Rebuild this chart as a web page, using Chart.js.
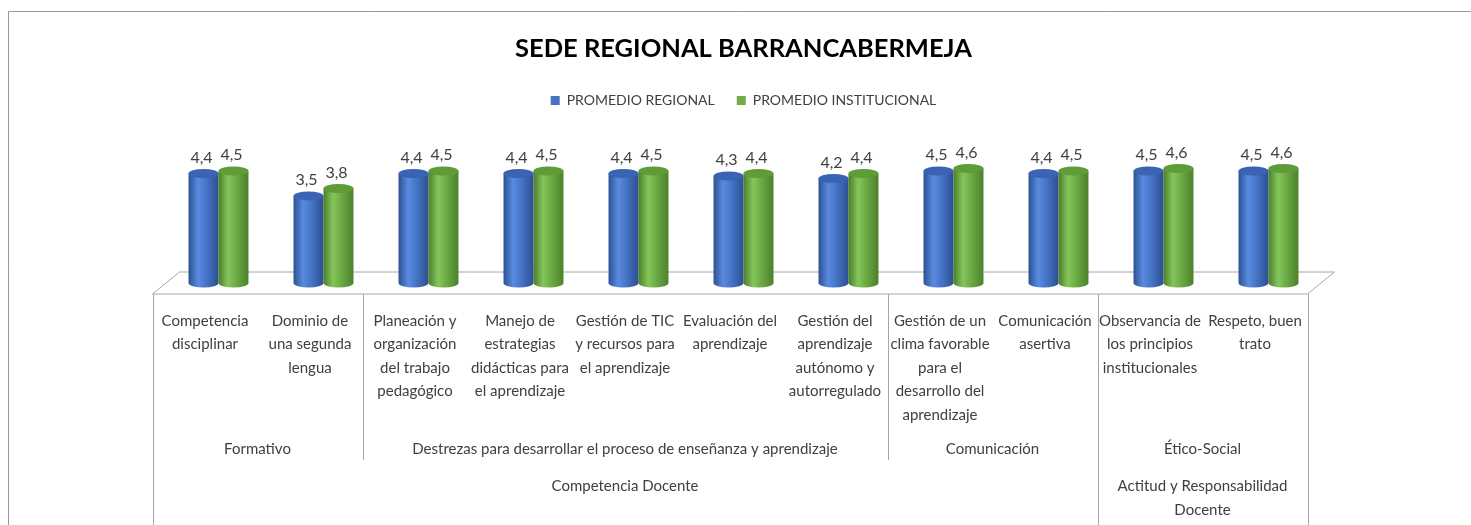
<!DOCTYPE html>
<html>
<head>
<meta charset="utf-8">
<script src="https://cdn.jsdelivr.net/npm/chart.js@4.4.1/dist/chart.umd.min.js"></script>
<style>
  body { margin: 0; background: #fff; }
  #wrap { width: 1471px; height: 525px; position: relative; }
</style>
</head>
<body>
<div id="wrap"><canvas id="sedeChart"></canvas></div>
<script>
// Chart data
const categories = [
    ['Competencia', 'disciplinar'],
    ['Dominio de', 'una segunda', 'lengua'],
    ['Planeación y', 'organización', 'del trabajo', 'pedagógico'],
    ['Manejo de', 'estrategias', 'didácticas para', 'el aprendizaje'],
    ['Gestión de TIC', 'y recursos para', 'el aprendizaje'],
    ['Evaluación del', 'aprendizaje'],
    ['Gestión del', 'aprendizaje', 'autónomo y', 'autorregulado'],
    ['Gestión de un', 'clima favorable', 'para el', 'desarrollo del', 'aprendizaje'],
    ['Comunicación', 'asertiva'],
    ['Observancia de', 'los principios', 'institucionales'],
    ['Respeto, buen', 'trato']
];
const promedioRegional = [4.4, 3.5, 4.4, 4.4, 4.4, 4.3, 4.2, 4.5, 4.4, 4.5, 4.5];
const promedioInstitucional = [4.5, 3.8, 4.5, 4.5, 4.5, 4.4, 4.4, 4.6, 4.5, 4.6, 4.6];

// category groups: label and [first, last] category index
const subGroups = ['Formativo', 'Destrezas para desarrollar el proceso de enseñanza y aprendizaje', 'Comunicación', 'Ético-Social'];
const subGroupSpans = [[0, 1], [2, 6], [7, 8], [9, 10]];
const mainGroups = [['Competencia Docente'], ['Actitud y Responsabilidad', 'Docente']];
const mainGroupSpans = [[0, 8], [9, 10]];

const FONT = "Lato, 'Liberation Sans', sans-serif";
const TEXT = '#404040';
const LINE = '#a6a6a6';
const DEPTH = 13.5;

const cylinderColors = [
    { stops: ['#2b5192', '#5a8be0', '#4472c4', '#2c4f90'], top: '#3a63b3' },
    { stops: ['#4a7e2b', '#84c65b', '#6aa842', '#4b812b'], top: '#5f9c38' }
];

function drawCylinder(ctx, x, top, base, w, col) {
    const rx = w / 2, ry = 4.5;
    const g = ctx.createLinearGradient(x - rx, 0, x + rx, 0);
    g.addColorStop(0, col.stops[0]);
    g.addColorStop(0.32, col.stops[1]);
    g.addColorStop(0.62, col.stops[2]);
    g.addColorStop(1, col.stops[3]);
    ctx.fillStyle = g;
    ctx.beginPath();
    ctx.moveTo(x - rx, top);
    ctx.lineTo(x - rx, base);
    ctx.ellipse(x, base, rx, ry, 0, Math.PI, 0, true);
    ctx.lineTo(x + rx, top);
    ctx.closePath();
    ctx.fill();
    ctx.fillStyle = col.top;
    ctx.beginPath();
    ctx.ellipse(x, top, rx, ry, 0, 0, Math.PI * 2);
    ctx.fill();
}

const cylinderPlugin = {
    id: 'cylinders',
    beforeInit(chart) {
        // extra room under the legend
        const fit = chart.legend.fit;
        chart.legend.fit = function() {
            fit.call(this);
            this.height += 41;
        };
    },
    beforeDatasetsDraw(chart) {
        const ctx = chart.ctx;
        const area = chart.chartArea;
        ctx.save();
        // floor
        ctx.strokeStyle = LINE;
        ctx.lineWidth = 1;
        ctx.fillStyle = '#fff';
        ctx.beginPath();
        ctx.moveTo(area.left - DEPTH, area.bottom + 11);
        ctx.lineTo(area.right - DEPTH, area.bottom + 11);
        ctx.lineTo(area.right + DEPTH, area.bottom - 11);
        ctx.lineTo(area.left + DEPTH, area.bottom - 11);
        ctx.closePath();
        ctx.fill();
        ctx.stroke();

        chart.data.datasets.forEach(function(ds, i) {
            const meta = chart.getDatasetMeta(i);
            meta.data.forEach(function(bar) {
                drawCylinder(ctx, bar.x, bar.y, bar.base, bar.width, cylinderColors[i]);
            });
        });

        // value labels
        ctx.fillStyle = TEXT;
        ctx.font = '16px ' + FONT;
        ctx.textAlign = 'center';
        ctx.textBaseline = 'middle';
        chart.data.datasets.forEach(function(ds, i) {
            chart.getDatasetMeta(i).data.forEach(function(bar, j) {
                ctx.fillText(ds.data[j].toFixed(1).replace('.', ','), bar.x - 2, bar.y - 16);
            });
        });
        ctx.restore();
        return false;
    },
    afterDraw(chart) {
        const ctx = chart.ctx;
        const area = chart.chartArea;
        const x = chart.scales.x;
        const slot = (area.right - area.left) / categories.length;
        const edge = function(k) { return area.left - DEPTH + k * slot; };
        const floorFront = area.bottom + 11;
        const subBottom = 460;
        const H = chart.height;

        ctx.save();
        // outer frame
        ctx.strokeStyle = '#999';
        ctx.lineWidth = 1;
        ctx.beginPath();
        ctx.moveTo(8.5, H);
        ctx.lineTo(8.5, 11.5);
        ctx.lineTo(chart.width, 11.5);
        ctx.stroke();

        // separators
        ctx.strokeStyle = LINE;
        ctx.beginPath();
        const mainEdges = [0];
        mainGroupSpans.forEach(function(s) { mainEdges.push(s[1] + 1); });
        mainEdges.forEach(function(k) {
            const px = Math.round(edge(k)) + 0.5;
            ctx.moveTo(px, floorFront);
            ctx.lineTo(px, H);
        });
        subGroupSpans.forEach(function(s) {
            if (mainEdges.indexOf(s[0]) === -1) {
                const px = Math.round(edge(s[0])) + 0.5;
                ctx.moveTo(px, floorFront);
                ctx.lineTo(px, subBottom);
            }
        });
        ctx.stroke();

        // category labels
        ctx.fillStyle = TEXT;
        ctx.font = '15px ' + FONT;
        ctx.textAlign = 'center';
        ctx.textBaseline = 'middle';
        categories.forEach(function(lines, i) {
            const cx = x.getPixelForValue(i) - DEPTH;
            lines.forEach(function(t, l) {
                ctx.fillText(t, cx, 321 + l * 23.5);
            });
        });

        // group labels
        subGroups.forEach(function(t, g) {
            const s = subGroupSpans[g];
            ctx.fillText(t, (edge(s[0]) + edge(s[1] + 1)) / 2, 449);
        });
        mainGroups.forEach(function(lines, g) {
            const s = mainGroupSpans[g];
            lines.forEach(function(t, l) {
                ctx.fillText(t, (edge(s[0]) + edge(s[1] + 1)) / 2, 486 + l * 24);
            });
        });
        ctx.restore();
    }
};

document.addEventListener('DOMContentLoaded', function() {
    const ctx = document.getElementById('sedeChart');
    new Chart(ctx, {
        type: 'bar',
        data: {
            labels: categories,
            datasets: [
                {
                    label: 'PROMEDIO REGIONAL',
                    data: promedioRegional,
                    backgroundColor: '#4472c4',
                    borderWidth: 0
                },
                {
                    label: 'PROMEDIO INSTITUCIONAL',
                    data: promedioInstitucional,
                    backgroundColor: '#70ad47',
                    borderWidth: 0
                }
            ]
        },
        options: {
            responsive: true,
            maintainAspectRatio: false,
            animation: false,
            datasets: {
                bar: {
                    categoryPercentage: 0.571,
                    barPercentage: 1
                }
            },
            layout: {
                padding: { top: 0, left: 166, right: 150, bottom: 242 }
            },
            scales: {
                x: { display: false },
                y: { display: false, min: 0, max: 5 }
            },
            plugins: {
                title: {
                    display: true,
                    text: 'SEDE REGIONAL BARRANCABERMEJA',
                    color: '#000',
                    font: { family: FONT, size: 25.5, weight: 'bold', lineHeight: 1.2 },
                    padding: { top: 33, bottom: 8 }
                },
                legend: {
                    position: 'top',
                    labels: {
                        color: TEXT,
                        boxWidth: 9,
                        boxHeight: 9,
                        padding: 22,
                        font: { family: FONT, size: 14 }
                    }
                },
                tooltip: { enabled: false }
            }
        },
        plugins: [cylinderPlugin]
    });
});
</script>
</body>
</html>
